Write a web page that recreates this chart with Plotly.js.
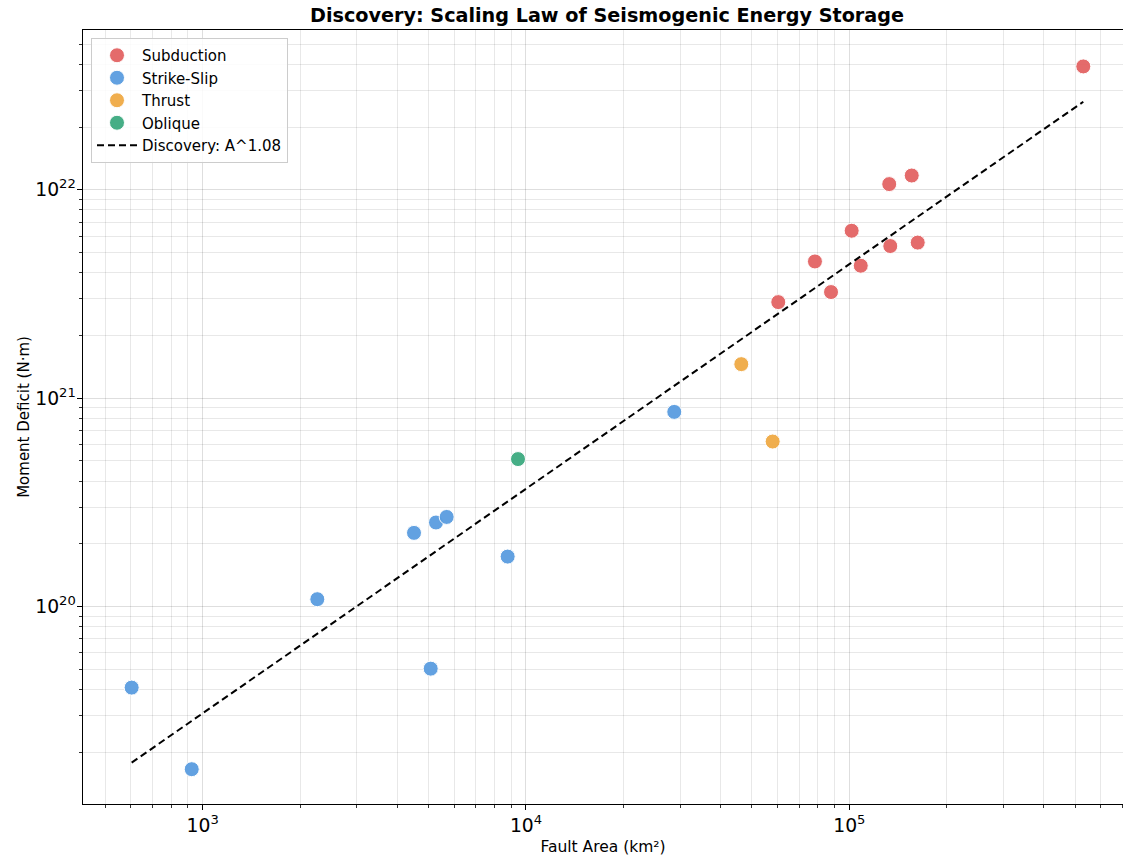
<!DOCTYPE html>
<html>
<head>
<meta charset="utf-8">
<script src="https://cdn.plot.ly/plotly-3.0.1.min.js"></script>
<style>html,body{margin:0;padding:0;background:#fff;}#chart{width:1123px;height:857px;}</style>
</head>
<body>
<div id="chart"></div>
<script>
// Fault area (km²) and moment deficit (N·m) by fault type
const subductionArea   = [60300, 78300, 87800, 101700, 108500, 132900, 133900, 156000, 162800, 529400];
const subductionMoment = [2.89e21, 4.53e21, 3.23e21, 6.36e21, 4.32e21, 1.065e22, 5.37e21, 1.171e22, 5.58e21, 3.91e22];

const strikeSlipArea   = [603, 925, 2262, 4504, 5268, 5684, 5073, 8776, 28750];
const strikeSlipMoment = [4.08e19, 1.656e19, 1.084e20, 2.256e20, 2.53e20, 2.69e20, 5.03e19, 1.736e20, 8.59e20];

const thrustArea   = [46340, 57940];
const thrustMoment = [1.456e21, 6.19e20];

const obliqueArea   = [9447];
const obliqueMoment = [5.10e20];

// Discovered scaling law line (read endpoints)
const fitArea   = [603, 529400];
const fitMoment = [1.781e19, 2.646e22];
const fitLabel  = "Discovery: A^1.08";

const seriesNames  = ["Subduction", "Strike-Slip", "Thrust", "Oblique"];
const seriesColors = ["#e36464", "#5a9de0", "#f0aa45", "#3daa80"];

const titleText = "Discovery: Scaling Law of Seismogenic Energy Storage";
const xTitle = "Fault Area (km²)";
const yTitle = "Moment Deficit (N·m)";

const FONT = "DejaVu Sans";

function scatter(name, x, y, color, group) {
  return {
    type: "scatter", mode: "markers", name: name, x: x, y: y,
    legendgroup: group,
    marker: {size: 15, color: color, opacity: 0.95, line: {color: "#ffffff", width: 1}},
    hoverinfo: "x+y+name"
  };
}

const traces = [
  scatter(seriesNames[0], subductionArea, subductionMoment, seriesColors[0], "g0"),
  scatter(seriesNames[1], strikeSlipArea, strikeSlipMoment, seriesColors[1], "g1"),
  scatter(seriesNames[2], thrustArea, thrustMoment, seriesColors[2], "g2"),
  scatter(seriesNames[3], obliqueArea, obliqueMoment, seriesColors[3], "g3"),
  {
    type: "scatter", mode: "lines", name: fitLabel, x: fitArea, y: fitMoment,
    legendgroup: "g4",
    line: {color: "#000000", width: 2, dash: "7px,4px"}
  }
];

function axisBase() {
  return {
    type: "log",
    dtick: 1,
    exponentformat: "power",
    showgrid: true,
    gridcolor: "rgba(0,0,0,0.13)",
    gridwidth: 1,
    zeroline: false,
    showline: true,
    linecolor: "#000000",
    linewidth: 1.2,
    ticks: "outside",
    ticklen: 5,
    tickwidth: 1,
    tickcolor: "#000000",
    automargin: false,
    tickfont: {family: FONT, size: 15, color: "#000000"},
    minor: {dtick: "D1", showgrid: true, gridcolor: "rgba(0,0,0,0.09)", gridwidth: 1,
            ticks: "outside", ticklen: 3, tickcolor: "#000000", tickwidth: 0.8}
  };
}

const xaxis = axisBase();
xaxis.range = [2.6298, 5.8466];
xaxis.mirror = true;
xaxis.title = {text: xTitle, font: {family: FONT, size: 15.5, color: "#000000"}, standoff: 6};

const yaxis = axisBase();
yaxis.range = [19.052, 22.767];
yaxis.mirror = false;
yaxis.ticklabelstandoff = -2;
yaxis.title = {text: yTitle, font: {family: FONT, size: 15, color: "#000000"}, standoff: 2};

const layout = {
  width: 1123, height: 857,
  paper_bgcolor: "#ffffff", plot_bgcolor: "#ffffff",
  margin: {l: 83, r: 0, t: 30, b: 53, autoexpand: false},
  font: {family: FONT, color: "#000000"},
  title: {
    text: "<b>" + titleText + "</b>",
    font: {family: FONT, size: 19.2, color: "#000000"},
    xref: "container", x: 607 / 1123, xanchor: "center",
    yref: "container", y: 1 - 15 / 857, yanchor: "middle"
  },
  xaxis: xaxis,
  yaxis: yaxis,
  showlegend: true,
  legend: {
    x: 8 / 1040, xref: "paper", xanchor: "left",
    y: 1 - 8 / 774, yref: "paper", yanchor: "top",
    bgcolor: "rgba(255,255,255,0.85)",
    bordercolor: "#cccccc", borderwidth: 1,
    font: {family: FONT, size: 15, color: "#000000"},
    tracegroupgap: 0,
    itemwidth: 40
  }
};

Plotly.newPlot("chart", traces, layout, {displayModeBar: false, staticPlot: true});
</script>
</body>
</html>
